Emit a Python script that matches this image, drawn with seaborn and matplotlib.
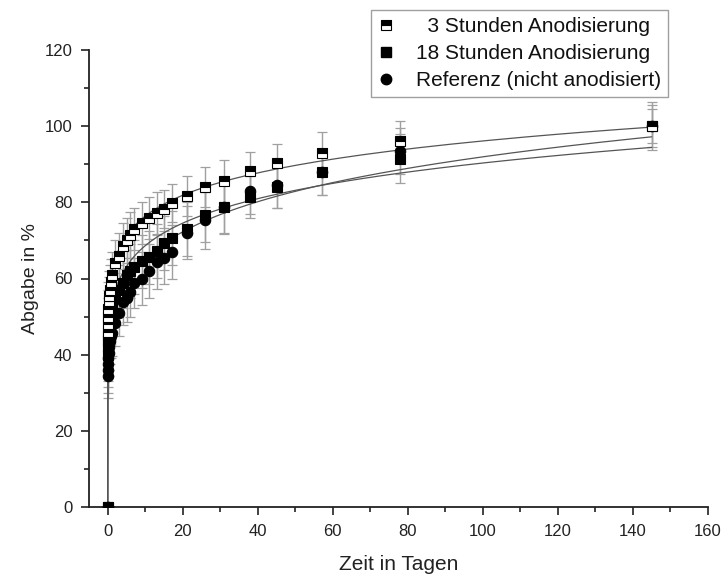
import numpy as np
import pandas as pd
import matplotlib
matplotlib.use("Agg")
import matplotlib.pyplot as plt
from matplotlib.lines import Line2D
from matplotlib.ticker import MultipleLocator
import seaborn as sns

# Sampling times in days
t_days = [0, 0.04, 0.08, 0.125, 0.17, 0.25, 0.375, 0.5, 0.75, 1, 2, 3, 4, 5, 6,
          7, 9, 11, 13, 15, 17, 21, 26, 31, 38, 45, 57, 78, 145]

# Cumulative release in %
release_3h = [0, 46, 48, 50, 52, 54, 55.5, 57, 59, 61, 64, 66, 68.5, 70, 71.5,
              73, 74.5, 76, 77.2, 78.3, 79.8, 81.6, 84, 85.6, 88.2, 90.3, 93, 96, 100]
release_18h = [0, 40, 42, 43.5, 45, 46.5, 48, 49, 50.5, 52.5, 55, 57, 58.8, 61, 62,
               63, 64.5, 65.6, 67.2, 69.3, 70.6, 73, 76.6, 78.7, 81.5, 84, 88, 91.5, 100]
release_ref = [0, 34.5, 36, 37.5, 39, 40.5, 42, 43.5, 45, 45.7, 48.3, 51, 53.8, 55, 56.4,
               58.8, 60, 62, 64.3, 65.5, 67, 72, 75.3, 78.7, 83, 84.5, 88, 93.5, 100]

# Standard deviations
err_3h = [0, 7, 7, 7, 7, 6.5, 6.5, 6.5, 6, 6, 6, 6, 6, 6, 6,
          5.5, 5.5, 5.5, 5.5, 5, 5, 5.3, 5.2, 5.5, 5, 5, 5.4, 5.3, 6.3]
err_18h = [0, 6, 6, 6, 6, 6, 6, 6, 6.5, 6.5, 6.5, 6.5, 6.5, 6.5, 7,
           7, 7, 7, 7, 7, 7, 7, 7, 6.8, 5.5, 5.5, 6, 6.5, 5.5]
err_ref = [0, 6, 6, 6, 6, 6, 6, 6, 6, 6, 6, 6, 6, 6.5, 6.5,
           6.5, 7, 7, 7, 7, 7, 7, 7.5, 7, 6, 6, 6, 6, 4.5]

labels = ["  3 Stunden Anodisierung", "18 Stunden Anodisierung", "Referenz (nicht anodisiert)"]

sns.set_style("ticks")
plt.rcParams["font.family"] = ["Liberation Sans", "DejaVu Sans"]

fig = plt.figure(figsize=(7.23, 5.75), dpi=100)
ax = fig.add_axes([89 / 723, 68 / 575, 619 / 723, 457 / 575])

t = np.array(t_days, dtype=float)
series = [
    (np.array(release_3h), np.array(err_3h), dict(marker="s", fillstyle="top", markersize=6.5,
                                                   markerfacecoloralt="white")),
    (np.array(release_18h), np.array(err_18h), dict(marker="s", markersize=6.5)),
    (np.array(release_ref), np.array(err_ref), dict(marker="o", markersize=7.5)),
]


def power_fit(x, y):
    """Least-squares fit of y = a * x**b (a solved in closed form per exponent)."""
    best = None
    for b in np.linspace(0.005, 0.6, 2400):
        xb = x ** b
        a = np.sum(y * xb) / np.sum(xb * xb)
        sse = np.sum((y - a * xb) ** 2)
        if best is None or sse < best[0]:
            best = (sse, a, b)
    return best[1], best[2]


# Power-law (Korsmeyer-Peppas) fit curves, computed from the data
t_fit = np.concatenate([[0.0], np.geomspace(1e-5, 145, 500)])
fit_rows = []
for i, (y, e, st) in enumerate(series):
    m = t > 0
    a, b = power_fit(t[m], y[m])
    y_fit = a * t_fit ** b
    fit_rows.append(pd.DataFrame({"t": t_fit, "y": y_fit, "s": i}))
fits = pd.concat(fit_rows, ignore_index=True)

for i, (y, e, st) in enumerate(series):
    _, caps, _ = ax.errorbar(t, y, yerr=e, fmt="none", ecolor="#a0a0a0", elinewidth=1.0,
                             capsize=3.5, capthick=0.9, zorder=2)
    for c in caps:
        c.set_color("#202020")

sns.lineplot(data=fits, x="t", y="y", units="s", estimator=None, sort=False,
             color="#555555", linewidth=0.9, ax=ax, zorder=3, legend=False)

for i, (y, e, st) in enumerate(reversed(series)):
    ax.plot(t, y, linestyle="none", color="black", markeredgecolor="black",
            markerfacecolor="black", markeredgewidth=0.8, zorder=4, **st)

ax.set_xlim(-5, 160)
ax.set_ylim(0, 120)
ax.xaxis.set_major_locator(MultipleLocator(20))
ax.xaxis.set_minor_locator(MultipleLocator(10))
ax.yaxis.set_major_locator(MultipleLocator(20))
ax.yaxis.set_minor_locator(MultipleLocator(10))
ax.tick_params(which="major", direction="out", length=6, width=1.2, labelsize=12,
               colors="#222222", pad=6)
ax.tick_params(which="minor", direction="out", length=3.5, width=1.2, colors="#222222")
for side in ("top", "right"):
    ax.spines[side].set_visible(False)
for side in ("left", "bottom"):
    ax.spines[side].set_linewidth(1.3)
    ax.spines[side].set_color("#222222")

ax.set_xlabel("Zeit in Tagen", fontsize=15, labelpad=12, color="#222222")
ax.set_ylabel("Abgabe in %", fontsize=14, labelpad=4, color="#222222")

handles = [
    Line2D([], [], linestyle="none", color="black", markeredgecolor="black",
           markerfacecolor="black", markeredgewidth=0.8, **series[0][2]),
    Line2D([], [], linestyle="none", color="black", markeredgecolor="black",
           markerfacecolor="black", **series[1][2]),
    Line2D([], [], linestyle="none", color="black", markeredgecolor="black",
           markerfacecolor="black", **series[2][2]),
]
leg = fig.legend(handles, labels, loc="upper right",
                 bbox_to_anchor=(668 / 723, 1 - 10 / 575), bbox_transform=fig.transFigure,
                 fontsize=15, frameon=True, fancybox=False, handlelength=0.8,
                 handletextpad=1.0, borderpad=0.35, labelspacing=0.38, borderaxespad=0)
leg.get_frame().set_edgecolor("#888888")
leg.get_frame().set_linewidth(1.0)
for txt in leg.get_texts():
    txt.set_color("#111111")

fig.savefig("out.png", dpi=100, facecolor="white")
